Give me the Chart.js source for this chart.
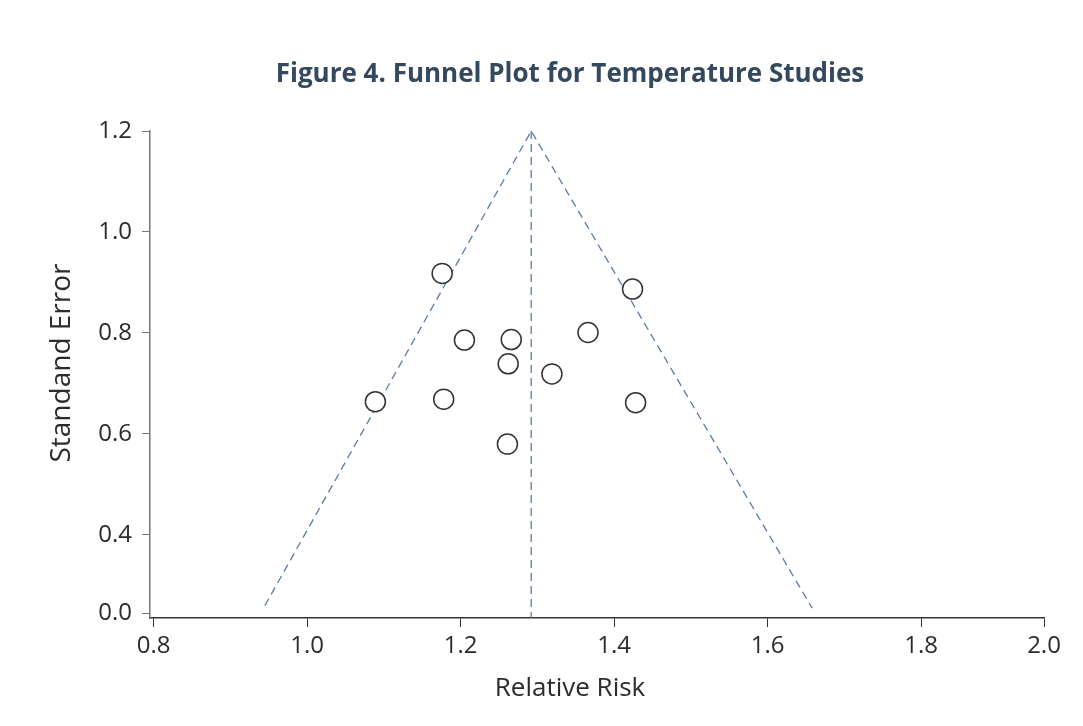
<!DOCTYPE html>
<html>
<head>
<meta charset="utf-8">
<script src="https://cdn.jsdelivr.net/npm/chart.js@4"></script>
<style>
  html, body { margin: 0; padding: 0; background: #ffffff; }
  #wrap { width: 1083px; height: 726px; }
</style>
</head>
<body>
<div id="wrap"><canvas id="funnel"></canvas></div>
<script>
// study estimates
const relRisk = [1.176, 1.424, 1.205, 1.266, 1.366, 1.262, 1.319, 1.089, 1.178, 1.428, 1.261];
const stdErr  = [0.918, 0.887, 0.786, 0.787, 0.801, 0.739, 0.719, 0.664, 0.669, 0.662, 0.580];

// funnel outline (left foot, apex, right foot) and pooled estimate line
const funnelX = [0.945, 1.292, 1.658];
const funnelY = [0.26, 1.2, 0.255];
const pooledX = [1.292, 1.292];
const pooledY = [1.2, 0.236];

// axis ticks as printed (the printed axes are not evenly spaced at the ends)
const xTickValues = [0.8, 1.0, 1.2, 1.4, 1.6, 1.8, 1.96];
const xTickLabels = ['0.8', '1.0', '1.2', '1.4', '1.6', '1.8', '2.0'];
const yTickValues = [0.2455, 0.4, 0.6, 0.8, 1.0, 1.2];
const yTickLabels = ['0.0', '0.4', '0.6', '0.8', '1.0', '1.2'];

const FONT = "'Open Sans', 'Noto Sans', sans-serif";
const lineColor = '#5a7da6';
const textColor = '#2b2b2b';

const toPoints = (xs, ys) => xs.map((x, i) => ({ x: x, y: ys[i] }));

// titles drawn at fixed spots, the figure centres them off the plot area
const titlePlugin = {
  id: 'figTitles',
  afterDraw(chart) {
    const c = chart.ctx;
    c.save();
    c.textAlign = 'center';
    c.textBaseline = 'middle';

    c.font = 'bold 26px ' + FONT;
    c.fillStyle = '#34495e';
    c.fillText('Figure 4. Funnel Plot for Temperature Studies', 570, 75);

    c.font = '26px ' + FONT;
    c.fillStyle = textColor;
    c.fillText('Relative Risk', 570, 689);

    c.translate(62, 363);
    c.rotate(-Math.PI / 2);
    c.font = '28px ' + FONT;
    c.fillText('Standand Error', 0, 0);
    c.restore();
  }
};

new Chart(document.getElementById('funnel'), {
  type: 'scatter',
  data: {
    datasets: [
      {
        label: 'Funnel',
        data: toPoints(funnelX, funnelY),
        showLine: true,
        borderColor: lineColor,
        borderWidth: 1.3,
        borderDash: [8, 5],
        pointRadius: 0,
        fill: false,
        order: 2
      },
      {
        label: 'Pooled estimate',
        data: toPoints(pooledX, pooledY),
        showLine: true,
        borderColor: lineColor,
        borderWidth: 1.3,
        borderDash: [8, 5],
        pointRadius: 0,
        fill: false,
        order: 2
      },
      {
        label: 'Studies',
        data: toPoints(relRisk, stdErr),
        pointRadius: 10,
        pointBorderWidth: 1.5,
        pointBorderColor: '#333333',
        pointBackgroundColor: '#ffffff',
        order: 1
      }
    ]
  },
  options: {
    responsive: true,
    maintainAspectRatio: false,
    animation: false,
    layout: {
      padding: { top: 131, right: 39, bottom: 0, left: 0 }
    },
    plugins: {
      legend: { display: false },
      tooltip: { enabled: false }
    },
    scales: {
      x: {
        type: 'linear',
        min: 0.7954,
        max: 1.96,
        afterBuildTicks: (scale) => {
          scale.ticks = xTickValues.map(v => ({ value: v }));
        },
        afterFit: (scale) => { scale.height = 108; },
        ticks: {
          callback: (value, i) => xTickLabels[i],
          color: textColor,
          font: { family: FONT, size: 24 },
          padding: 5,
          maxRotation: 0,
          autoSkip: false
        },
        grid: { drawOnChartArea: false, drawTicks: true, tickLength: 9, color: '#333333' },
        border: { display: true, color: '#333333', width: 1.5 },
        title: { display: false }
      },
      y: {
        type: 'linear',
        min: 0.2356,
        max: 1.2,
        afterBuildTicks: (scale) => {
          scale.ticks = yTickValues.map(v => ({ value: v }));
        },
        afterFit: (scale) => { scale.width = 150; },
        ticks: {
          callback: (value, i) => yTickLabels[i],
          color: textColor,
          font: { family: FONT, size: 24 },
          padding: 10,
          autoSkip: false
        },
        grid: { drawOnChartArea: false, drawTicks: true, tickLength: 8, color: '#777777' },
        border: { display: true, color: '#777777', width: 1.5 },
        title: { display: false }
      }
    }
  },
  plugins: [titlePlugin]
});
</script>
</body>
</html>
